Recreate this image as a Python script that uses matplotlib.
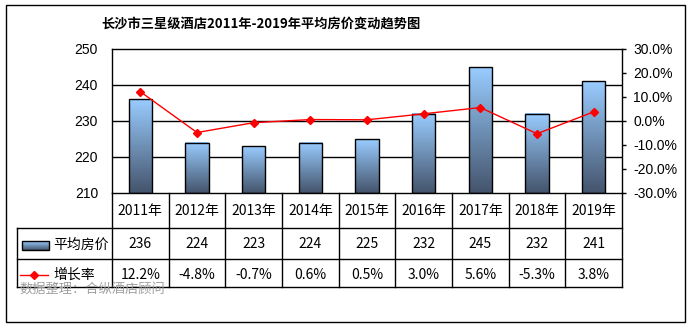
import numpy as np
import matplotlib
matplotlib.use('Agg')
import matplotlib.pyplot as plt
from matplotlib.colors import LinearSegmentedColormap

# data
years = ['2011年', '2012年', '2013年', '2014年', '2015年', '2016年', '2017年', '2018年', '2019年']
avg_price = [236, 224, 223, 224, 225, 232, 245, 232, 241]
growth = [12.2, -4.8, -0.7, 0.6, 0.5, 3.0, 5.6, -5.3, 3.8]

title = '长沙市三星级酒店2011年-2019年平均房价变动趋势图'
source = '数据整理：合纵酒店顾问'

W, H = 691, 328
CJK = ['Noto Sans CJK SC', 'DejaVu Sans']
ARIAL = ['Liberation Sans', 'DejaVu Sans']

fig = plt.figure(figsize=(W / 100, H / 100), dpi=100)


def box(l, t, r, b):
    return [l / W, 1 - b / H, (r - l) / W, (b - t) / H]


# outer frame
fig.add_artist(plt.Rectangle((6 / W, 1 - 322 / H), 679 / W, 317 / H, fill=False,
                             lw=1, ec='black', transform=fig.transFigure))

grad_cmap = LinearSegmentedColormap.from_list('bar', ['#44546c', '#99ccff'])
grad = np.linspace(0, 1, 128).reshape(-1, 1)

ax = fig.add_axes(box(112, 49, 622, 193))
x = np.arange(len(years))
bw = 0.41
for i, v in enumerate(avg_price):
    ax.imshow(grad, extent=[i - bw / 2, i + bw / 2, 210, v], origin='lower',
              cmap=grad_cmap, aspect='auto', zorder=2)
    ax.add_patch(plt.Rectangle((i - bw / 2, 210), bw, v - 210, fill=False,
                               ec='black', lw=1, zorder=3))
for g in [220, 230, 240]:
    ax.axhline(g, color='black', lw=1, zorder=1)
ax.set_xlim(-0.5, len(years) - 0.5)
ax.set_ylim(210, 250)
ax.set_yticks([210, 220, 230, 240, 250])
ax.set_xticks([])
ax.tick_params(axis='y', length=0, pad=10, labelsize=10)
for lab in ax.get_yticklabels():
    lab.set_family(ARIAL)
for s in ax.spines.values():
    s.set_linewidth(1)

ax2 = ax.twinx()
ax2.plot(x, growth, color='red', marker='D', ms=4, lw=1, zorder=5)
ax2.set_ylim(-30, 30)
ax2.set_yticks(np.arange(-30, 31, 10))
ax2.set_yticklabels(['%.1f%%' % t for t in np.arange(-30, 31, 10)])
ax2.tick_params(axis='y', length=3, width=1, pad=5, labelsize=10)
for lab in ax2.get_yticklabels():
    lab.set_family(ARIAL)
ax2.patch.set_visible(False)
for s in ax2.spines.values():
    s.set_visible(False)

# data table below the plot
col_w = (622 - 112) / len(years)
x_left = -0.5 - (112 - 17) / col_w
tb = fig.add_axes(box(17, 193, 622, 290))
tb.set_xlim(x_left, len(years) - 0.5)
tb.set_ylim(290, 193)
tb.axis('off')

rows = [193, 228, 259, 287]
lk = dict(color='black', lw=1, clip_on=False)
for y in rows[1:]:
    tb.plot([x_left, len(years) - 0.5], [y, y], **lk)
for b in np.arange(-0.5, len(years), 1):
    tb.plot([b, b], [193, 287], **lk)
tb.plot([x_left, x_left], [228, 287], **lk)

for i in range(len(years)):
    tb.text(i, 210.5, years[i], ha='center', va='center', fontsize=10, family=CJK)
    tb.text(i, 244.5, str(avg_price[i]), ha='center', va='center', fontsize=10, family=CJK)
    tb.text(i, 275, '%.1f%%' % growth[i], ha='center', va='center', fontsize=10, family=CJK)


def px(p):
    return -0.5 - (112 - p) / col_w


# legend keys in the table
tb.imshow(grad, extent=[px(22), px(49), 250, 241], origin='lower', cmap=grad_cmap,
          aspect='auto', zorder=2)
tb.add_patch(plt.Rectangle((px(22), 241), px(49) - px(22), 9, fill=False, ec='black', lw=1, zorder=3))
tb.plot([px(20), px(48)], [275, 275], color='red', lw=1)
tb.plot([px(34)], [275], color='red', marker='D', ms=4)
tb.text(px(53), 245, '平均房价', ha='left', va='center', fontsize=10, family=CJK)
tb.text(px(53), 275, '增长率', ha='left', va='center', fontsize=10, family=CJK)
tb.set_xlim(x_left, len(years) - 0.5)
tb.set_ylim(290, 193)

fig.text(261 / W, 1 - 24 / H, title, ha='center', va='center', fontsize=9.5,
         fontweight='bold', family=CJK)
fig.text(19 / W, 1 - 289 / H, source, ha='left', va='center', fontsize=9.5,
         color='#a0a0a0', family=CJK)

fig.savefig('out.png', dpi=100)
